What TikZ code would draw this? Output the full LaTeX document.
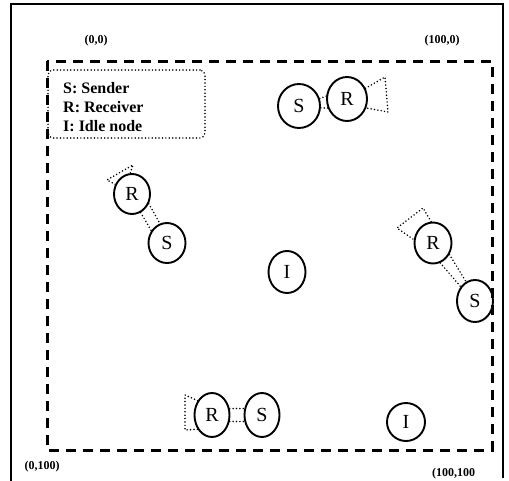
\documentclass[tikz,border=0pt]{standalone}
\usepackage{fontspec}
\setmainfont{Liberation Serif}
\usetikzlibrary{shapes.geometric}
\begin{document}
\begin{tikzpicture}[x=1pt,y=-1pt,
  nd/.style={ellipse, draw, line width=1.9pt, inner sep=0pt, minimum width=39pt, minimum height=43pt, font=\fontsize{20}{20}\selectfont},
  dotline/.style={line width=1.7pt, line cap=round, dash pattern=on 0pt off 3.4pt},
  frameline/.style={line width=2pt},
  area/.style={line width=3pt, dash pattern=on 10pt off 7pt},
  lbl/.style={font=\fontsize{12}{12}\selectfont\bfseries, inner sep=0pt},
  legtext/.style={font=\fontsize{16}{16}\selectfont\bfseries, inner sep=0pt, anchor=base west},
  legbox/.style={draw, dotline, rounded corners=5pt, minimum width=157pt, minimum height=68pt, inner sep=0pt}]
\useasboundingbox (0,0) rectangle (509,480);
% outer frame
\coordinate (f1) at (11,482);
\coordinate (f2) at (11,4);
\coordinate (f3) at (503,4);
\coordinate (f4) at (503,478);
\draw[frameline] (f1) -- (f2) -- (f3) -- (f4);
% dashed area
\coordinate (a1) at (47,61);
\coordinate (a2) at (492,450);
\draw[area] (a1) rectangle (a2);
% corner labels
\node[lbl] (c00) at (96,41) {(0,0)};
\node[lbl] (c10) at (442,41) {(100,0)};
\node[lbl] (c01) at (42,467) {(0,100)};
\node[lbl, anchor=west] (c11) at (432,474) {(100,100};
% legend
\node[legbox] (legend) at (126.5,104) {};
\node[legtext] (l1) at (63,93) {S: Sender};
\node[legtext] (l2) at (63,112) {R: Receiver};
\node[legtext] (l3) at (63,131) {I: Idle node};
% pair 1 (top)
\node[nd, minimum width=42pt, minimum height=44pt] (s1) at (299,106) {S};
\node[nd, minimum width=40pt, minimum height=44pt] (r1) at (347,99) {R};
\draw[dotline] (s1.20) -- (r1.172);
\draw[dotline] (s1.-5) -- (r1.-155);
\coordinate (r1a) at (385,77);
\coordinate (r1b) at (388,112);
\draw[dotline] (r1.30) -- (r1a) -- (r1b) -- (r1.-25);
% pair 2 (left)
\node[nd, minimum width=36pt, minimum height=40pt] (r2) at (132,194) {R};
\node[nd, minimum width=37pt, minimum height=40pt] (s2) at (167,243) {S};
\draw[dotline] (r2.-30) -- (s2.110);
\draw[dotline] (r2.-65) -- (s2.142);
\coordinate (r2a) at (107,180);
\coordinate (r2b) at (133,165);
\draw[dotline] (r2.150) -- (r2a) -- (r2b) -- (r2.95);
% pair 3 (right)
\node[nd, minimum width=37pt, minimum height=41pt] (r3) at (433,243) {R};
\node[nd, minimum width=36pt, minimum height=42pt] (s3) at (475,301) {S};
\draw[dotline] (r3.-70) -- (s3.135);
\draw[dotline] (r3.-35) -- (s3.115);
\coordinate (r3a) at (423,208);
\coordinate (r3b) at (397,228);
\draw[dotline] (r3.95) -- (r3a) -- (r3b) -- (r3.170);
% pair 4 (bottom)
\node[nd, minimum width=35pt, minimum height=44pt] (r4) at (212,415) {R};
\node[nd, minimum width=35pt, minimum height=44pt] (s4) at (262,415) {S};
\draw[dotline] (r4.20) -- (s4.160);
\draw[dotline] (r4.-20) -- (s4.-160);
\coordinate (r4a) at (185,395);
\coordinate (r4b) at (185,430);
\draw[dotline] (r4.135) -- (r4a) -- (r4b) -- (r4.-135);
% idle nodes
\node[nd, minimum width=37pt, minimum height=42pt] (i1) at (287,272) {I};
\node[nd, minimum width=38pt, minimum height=38pt] (i2) at (406,422) {I};
\end{tikzpicture}
\end{document}
